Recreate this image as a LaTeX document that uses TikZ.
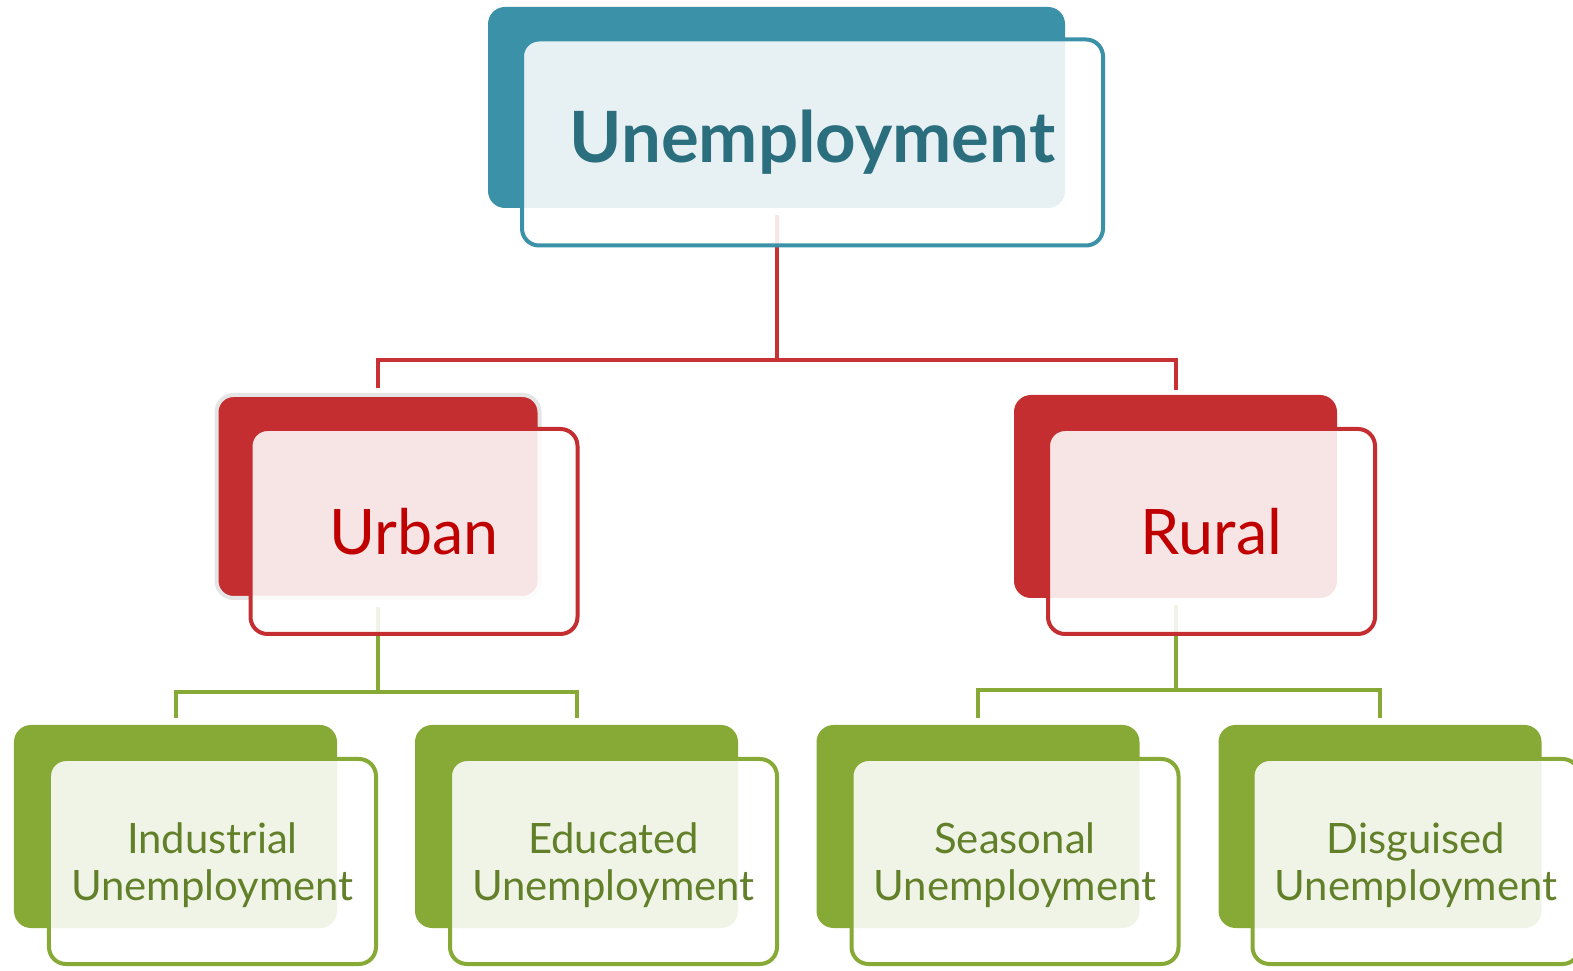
\documentclass[tikz,border=0pt]{standalone}
\usepackage{fontspec}
\setmainfont{Lato}
\usepackage{tikz}
\usetikzlibrary{calc, positioning}
\usepackage{xcolor}

\definecolor{tealback}{RGB}{59,145,167}
\definecolor{tealtext}{RGB}{43,110,126}
\definecolor{redback}{RGB}{196,46,48}
\definecolor{redline}{RGB}{200,50,52}
\definecolor{redtext}{RGB}{192,0,0}
\definecolor{greenback}{RGB}{135,170,55}
\definecolor{greentext}{RGB}{98,128,41}

\begin{document}
\begin{tikzpicture}[
		x=1bp, y=1bp,
		backbox/.style={rectangle, rounded corners=17bp, fill=#1, inner sep=0pt,
			minimum width=323bp, minimum height=203bp},
		frontbox/.style={rectangle, rounded corners=17bp, draw=#1, line width=4bp,
			fill=white, fill opacity=0.88, text opacity=1, align=center,
			minimum width=327bp, minimum height=205bp},
		link/.style={line width=4bp, draw=#1}
		]
	
		\useasboundingbox (0,0) rectangle (1573,970);
	
		% --- back boxes ---
		\node[backbox=tealback, minimum width=577bp, minimum height=201bp] (Tb) at (776.5, 862.5) {};
		\node[backbox=redback, draw=black!10, line width=4bp] (Ub) at (378, 473.5) {};
		\node[backbox=redback] (Rb) at (1175.5, 473.5) {};
		\node[backbox=greenback] (Ib) at (175.5, 143.5) {};
		\node[backbox=greenback] (Eb) at (576.5, 143.5) {};
		\node[backbox=greenback] (Sb) at (978, 143.5) {};
		\node[backbox=greenback] (Db) at (1380, 143.5) {};
	
		% --- connectors ---
		\draw[link=redline] ([yshift=-7bp]Tb.south) -- ++(0,-145) -| ([yshift=5bp]Ub.north);
		\draw[link=redline] ([yshift=-7bp]Tb.south) -- ++(0,-145) -| ([yshift=5bp]Rb.north);
		\draw[link=greenback] ([yshift=-7bp]Ub.south) -- ++(0,-85) -| ([yshift=7bp]Ib.north);
		\draw[link=greenback] ([yshift=-7bp]Ub.south) -- ++(0,-85) -| ([yshift=7bp]Eb.north);
		\draw[link=greenback] ([yshift=-7bp]Rb.south) -- ++(0,-85) -| ([yshift=7bp]Sb.north);
		\draw[link=greenback] ([yshift=-7bp]Rb.south) -- ++(0,-85) -| ([yshift=7bp]Db.north);
	
		% --- front boxes ---
		\node[frontbox=tealback, minimum width=581bp, minimum height=206bp, text=tealtext,
			font=\fontsize{71}{80}\selectfont\bfseries] (Tf) at ($(Tb)+(36,-35)$) {Unemployment};
		\node[frontbox=redback, text=redtext, font=\fontsize{63}{76}\selectfont] (Uf) at ($(Ub)+(36,-35)$) {Urban};
		\node[frontbox=redback, text=redtext, font=\fontsize{63}{76}\selectfont] (Rf) at ($(Rb)+(36,-35)$) {Rural};
		\node[frontbox=greenback, text=greentext, text depth=0pt, font=\fontsize{42}{47}\selectfont] (If) at ($(Ib)+(37,-35)$) {Industrial\\Unemployment};
		\node[frontbox=greenback, text=greentext, text depth=0pt, font=\fontsize{42}{47}\selectfont] (Ef) at ($(Eb)+(37,-35)$) {Educated\\Unemployment};
		\node[frontbox=greenback, text=greentext, text depth=0pt, font=\fontsize{42}{47}\selectfont] (Sf) at ($(Sb)+(37,-35)$) {Seasonal\\Unemployment};
		\node[frontbox=greenback, text=greentext, text depth=0pt, font=\fontsize{42}{47}\selectfont] (Df) at ($(Db)+(36,-35)$) {Disguised\\Unemployment};
	
	\end{tikzpicture}
\end{document}
